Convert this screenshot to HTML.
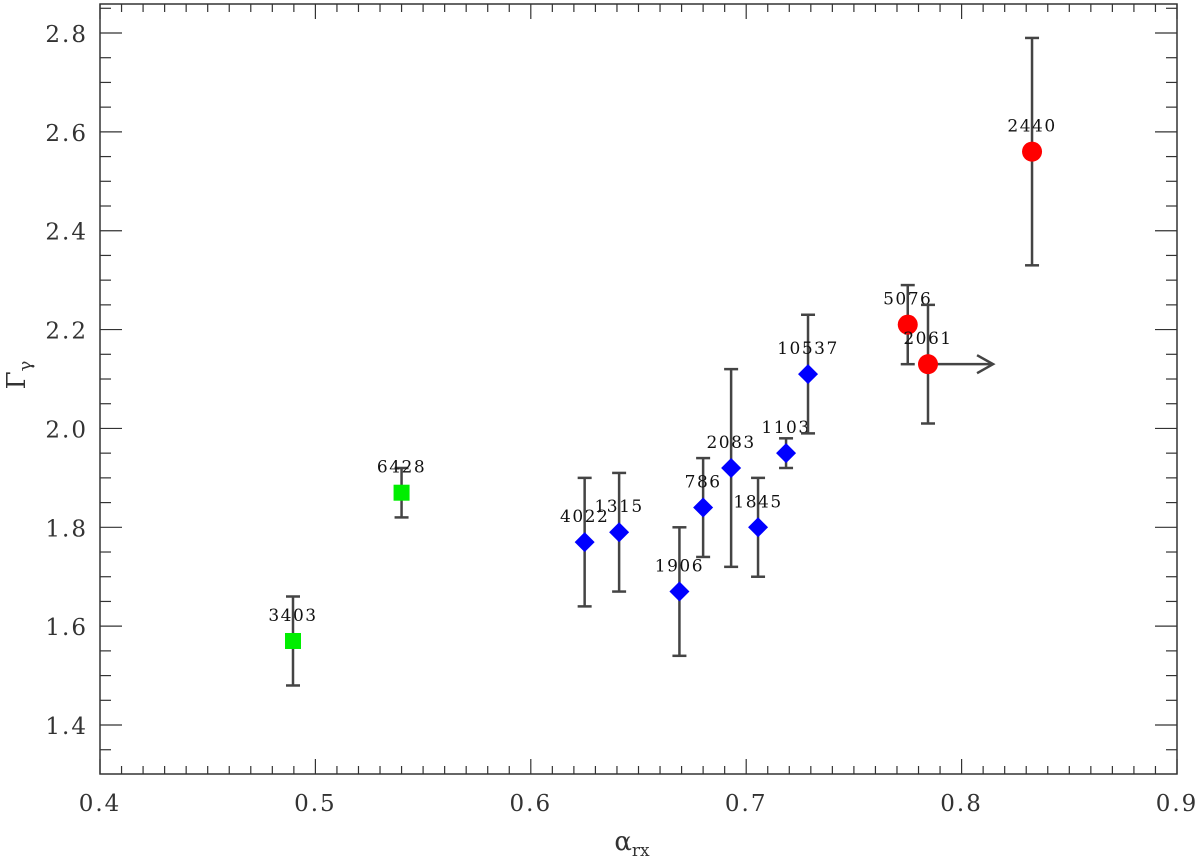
<!DOCTYPE html>
<html><head><meta charset="utf-8"><style>
body{margin:0;background:#fff}
svg text{font-family:"DejaVu Serif","Liberation Serif",serif;fill:#333}
</style></head><body>
<svg id="c" width="1200" height="858" viewBox="0 0 1200 858" xmlns="http://www.w3.org/2000/svg"></svg>
<script>
const labels=["3403","6428","4022","1315","1906","786","2083","1845","1103","10537","5076","2061","2440"];
const groups=["green","green","blue","blue","blue","blue","blue","blue","blue","blue","red","red","red"];
const xVals=[0.4896,0.540,0.625,0.641,0.669,0.680,0.693,0.7055,0.7185,0.7287,0.775,0.7844,0.8327];
const yVals=[1.57,1.87,1.77,1.79,1.67,1.84,1.92,1.80,1.95,2.11,2.21,2.13,2.56];
const yHi=[1.66,1.92,1.90,1.91,1.80,1.94,2.12,1.90,1.98,2.23,2.29,2.25,2.79];
const yLo=[1.48,1.82,1.64,1.67,1.54,1.74,1.72,1.70,1.92,1.99,2.13,2.01,2.33];
const xTicks=[0.4,0.5,0.6,0.7,0.8,0.9];
const yTicks=[1.4,1.6,1.8,2.0,2.2,2.4,2.6,2.8];
const limitIdx=[11];
const limitTo=[0.8146];
const L=100,R=1177,T=4,B=774;
const sx=v=>L+(v-0.4)/0.5*(R-L);
const sy=v=>33+(2.8-v)/0.2*98.86;
const svg=document.getElementById('c');
const NS='http://www.w3.org/2000/svg';
function mk(tag,a,parent){const e=document.createElementNS(NS,tag);for(const k in a)e.setAttribute(k,a[k]);(parent||svg).appendChild(e);return e;}
const frame=mk('rect',{x:L,y:T,width:R-L,height:B-T,fill:'none',stroke:'#333','stroke-width':1.5});


const g=mk('g',{stroke:'#333','stroke-width':1.2});


for(let i=0;i<=50;i++){const v=0.4+i*0.01,x=sx(v),len=i%10==0?15:8;
 mk('line',{x1:x,y1:B,x2:x,y2:B-len},g);mk('line',{x1:x,y1:T,x2:x,y2:T+len},g);}
for(let v=1.3;v<=2.86;v+=0.05){const y=sy(v);if(y<T||y>B)continue;const maj=Math.abs(Math.round(v*10)%2)==0&&Math.abs(v*10-Math.round(v*10))<0.01;const len=maj?22:11;
 mk('line',{x1:L,y1:y,x2:L+len,y2:y},g);mk('line',{x1:R,y1:y,x2:R-len,y2:y},g);}
xTicks.forEach(v=>{const t=mk('text',{x:sx(v),y:811,'font-size':23,'letter-spacing':2,'text-anchor':'middle'});t.textContent=v.toFixed(1);
 
 });
yTicks.forEach(v=>{const t=mk('text',{x:88,y:sy(v)+9,'font-size':23,'letter-spacing':2,'text-anchor':'end'});t.textContent=v.toFixed(1);
 
 });
const xt=mk('text',{x:632,y:850,'font-size':26,'text-anchor':'middle'});xt.innerHTML='α<tspan font-size="17" dy="6">rx</tspan>';


const yt=mk('text',{x:0,y:0,'font-size':26,'text-anchor':'middle',transform:'translate(25,375) rotate(-90)'});yt.innerHTML='Γ<tspan font-size="18" dy="6">γ</tspan>';


const cols={green:'#00ee00',blue:'#0000ff',red:'#ff0000'};
xVals.forEach((xv,i)=>{
 const x=sx(xv),y=sy(yVals[i]),yh=sy(yHi[i]),yl=sy(yLo[i]);
 const eb=mk('g',{stroke:'#444','stroke-width':2.5,fill:'none'});
 
 
 mk('line',{x1:x,y1:yh,x2:x,y2:yl},eb);mk('line',{x1:x-7,y1:yh,x2:x+7,y2:yh},eb);mk('line',{x1:x-7,y1:yl,x2:x+7,y2:yl},eb);
 const li=limitIdx.indexOf(i);
 if(li>=0){const x2=sx(limitTo[li]);mk('line',{x1:x,y1:y,x2:x2,y2:y},eb);mk('polyline',{points:`${x2-16},${y-9} ${x2},${y} ${x2-16},${y+9}`},eb);}
 let m;const c=cols[groups[i]];
 if(groups[i]=='green')m=mk('rect',{x:x-8,y:y-8,width:16,height:16,fill:c});
 else if(groups[i]=='blue')m=mk('polygon',{points:`${x},${y-10} ${x+10},${y} ${x},${y+10} ${x-10},${y}`,fill:c});
 else m=mk('circle',{cx:x,cy:y,r:10,fill:c});
 
 
 const t=mk('text',{x:x,y:y-20,'font-size':17,'letter-spacing':1.5,'text-anchor':'middle',style:'fill:#111'});t.textContent=labels[i];
 
 
});
</script>
</body></html>
